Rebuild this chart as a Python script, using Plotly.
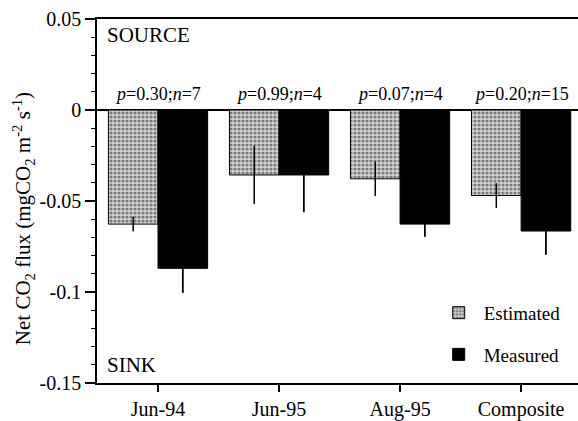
import plotly.graph_objects as go

categories = ["Jun-94", "Jun-95", "Aug-95", "Composite"]
estimated = [-0.0627, -0.0357, -0.0378, -0.047]
estimated_err = [0.004, 0.016, 0.0095, 0.0068]
measured = [-0.087, -0.0357, -0.0627, -0.0665]
measured_err = [0.0135, 0.0205, 0.007, 0.013]
p_values = ["0.30", "0.99", "0.07", "0.20"]
n_values = [7, 4, 4, 15]
y_ticks = [0.05, 0, -0.05, -0.1, -0.15]
y_tick_labels = ["0.05", "0", "-0.05", "-0.1", "-0.15"]

FONT = "Liberation Serif"

fig = go.Figure()
fig.add_trace(go.Bar(
    x=categories, y=estimated, name="Estimated", legendgroup="a",
    marker=dict(color="#c8c8c8",
                line=dict(color="black", width=1),
                pattern=dict(shape=".", size=4, solidity=0.5,
                             fgcolor="#222222", bgcolor="#d4d4d4")),
    error_y=dict(type="data", array=estimated_err, visible=True,
                 color="black", thickness=1.5, width=0),
))
fig.add_trace(go.Bar(
    x=categories, y=measured, name="Measured", legendgroup="b",
    marker=dict(color="black", line=dict(color="black", width=1)),
    error_y=dict(type="data", array=measured_err, visible=True,
                 color="black", thickness=1.8, width=0),
))

for c, p, n in zip(categories, p_values, n_values):
    fig.add_annotation(x=c, y=0.0, yshift=16, text=f"<i>p</i>=" + p + f";<i>n</i>={n}",
                       showarrow=False, font=dict(family=FONT, size=18, color="black"))

fig.add_annotation(xref="paper", yref="paper", x=0.017, y=0.957, xanchor="left", yanchor="middle",
                   text="SOURCE", showarrow=False,
                   font=dict(family=FONT, size=21, color="black"))
fig.add_annotation(xref="paper", yref="paper", x=0.017, y=0.049, xanchor="left", yanchor="middle",
                   text="SINK", showarrow=False,
                   font=dict(family=FONT, size=21, color="black"))

# y-axis title placed as a rotated annotation
fig.add_annotation(xref="paper", yref="paper", x=-0.154, y=0.4526, xanchor="center", yanchor="middle",
                   textangle=-90, showarrow=False,
                   text="Net CO<sub>2</sub> flux (mgCO<sub>2</sub> m<sup>-2</sup> s<sup>-1</sup>)",
                   font=dict(family=FONT, size=21, color="black"))

fig.update_layout(
    width=578, height=421,
    margin=dict(l=97, r=0, t=19, b=33),
    paper_bgcolor="white", plot_bgcolor="white",
    barmode="group", bargap=0.18, bargroupgap=0,
    font=dict(family=FONT, size=20, color="black"),
    legend=dict(x=0.70, y=0.245, xanchor="left", yanchor="top",
                font=dict(family=FONT, size=19), tracegroupgap=14,
                itemwidth=40, bgcolor="rgba(0,0,0,0)"),
    xaxis=dict(range=[-0.504, 3.47], showline=True, linecolor="black", linewidth=1.5,
               mirror=True, ticks="outside", ticklen=7, tickwidth=1.5, tickcolor="black",
               showgrid=False, zeroline=False),
    yaxis=dict(range=[-0.15, 0.05], tickvals=y_ticks, ticktext=y_tick_labels,
               showline=True, linecolor="black", linewidth=1.5,
               ticks="outside", ticklen=10, tickwidth=1.5, tickcolor="black",
               minor=dict(dtick=0.01, ticks="outside", ticklen=4, tickcolor="black", tickwidth=1.2),
               showgrid=False, zeroline=True, zerolinecolor="black", zerolinewidth=1.5),
)

fig.write_html("out.html")
